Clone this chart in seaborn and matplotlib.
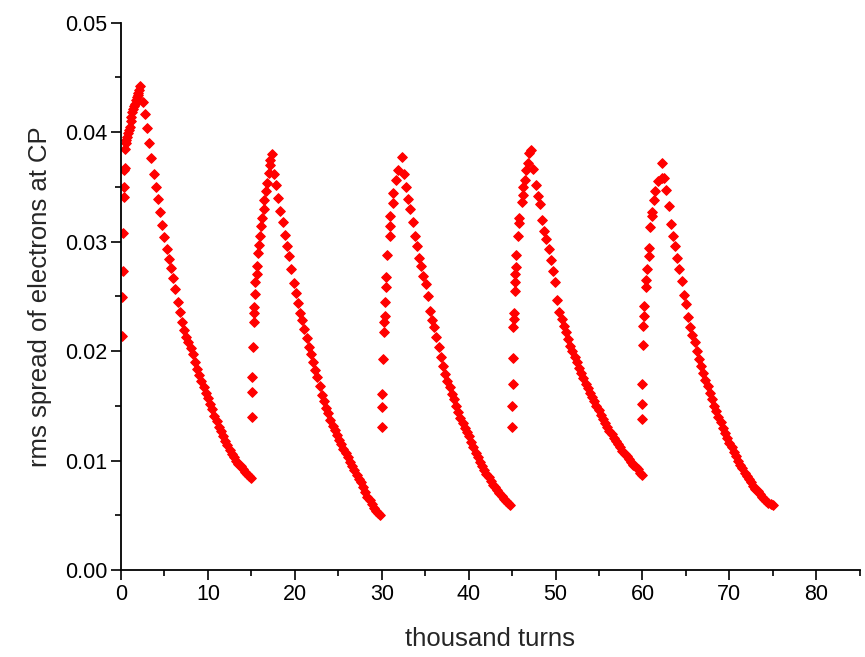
import numpy as np
import pandas as pd
import matplotlib
matplotlib.use("Agg")
import matplotlib.pyplot as plt
from matplotlib.ticker import MultipleLocator, FormatStrFormatter
import seaborn as sns

# rms electron spread at the collision point, five injection cycles of 15k turns
turns_1 = [0.1, 0.15, 0.2, 0.25, 0.3, 0.35, 0.4, 0.45, 0.5, 0.55, 0.6, 0.7, 0.8, 0.9, 1.0,
           1.1, 1.2, 1.3, 1.4, 1.5, 1.6, 1.7, 1.8, 1.9, 2.0, 2.1, 2.2,
           2.5, 2.75, 3.0, 3.25, 3.5, 3.75, 4.0, 4.25, 4.5, 4.75, 5.0, 5.25, 5.5, 5.75,
           6.0, 6.25, 6.5, 6.75, 7.0, 7.25, 7.5, 7.75, 8.0, 8.25, 8.5, 8.75, 9.0, 9.25,
           9.5, 9.75, 10.0, 10.25, 10.5, 10.75, 11.0, 11.25, 11.5, 11.75, 12.0, 12.25,
           12.5, 12.75, 13.0, 13.25, 13.5, 13.75, 14.0, 14.25, 14.5, 14.75, 15.0]
rms_1 = [0.0214, 0.0249, 0.0273, 0.0308, 0.0341, 0.0350, 0.0365, 0.0367, 0.0385, 0.0390,
         0.0393, 0.0396, 0.0399, 0.0402, 0.0405, 0.0410, 0.0414, 0.0418, 0.0421, 0.0424,
         0.0426, 0.0429, 0.0432, 0.0434, 0.0436, 0.0439, 0.0442,
         0.0428, 0.0417, 0.0404, 0.0390, 0.0376, 0.0362, 0.0350, 0.0339, 0.0327, 0.0315,
         0.0304, 0.0293, 0.0284, 0.0276, 0.0267, 0.0257, 0.0245, 0.0236, 0.0227, 0.0219,
         0.0213, 0.0208, 0.0203, 0.0197, 0.0190, 0.0184, 0.0178, 0.0173, 0.0167, 0.0162,
         0.0157, 0.0152, 0.0147, 0.0141, 0.0136, 0.0131, 0.0127, 0.0122, 0.0118, 0.0114,
         0.0110, 0.0106, 0.0103, 0.0100, 0.0097, 0.0095, 0.0092, 0.0090, 0.0088, 0.0086,
         0.0084]

turns_2 = [15.05, 15.05, 15.08, 15.15, 15.25, 15.3, 15.35, 15.4, 15.45, 15.6, 15.7, 15.8,
           15.9, 16.0, 16.1, 16.25, 16.4, 16.5, 16.7, 16.8, 17.0, 17.1, 17.2, 17.35,
           17.6, 17.85, 18.1, 18.35, 18.6, 18.85, 19.1, 19.35, 19.6, 19.85, 20.1, 20.35,
           20.6, 20.85, 21.1, 21.35, 21.6, 21.85, 22.1, 22.35, 22.6, 22.85, 23.1, 23.35,
           23.6, 23.85, 24.1, 24.35, 24.6, 24.85, 25.1, 25.35, 25.6, 25.85, 26.1, 26.35,
           26.6, 26.85, 27.1, 27.35, 27.6, 27.85, 28.1, 28.35, 28.6, 28.85, 29.1, 29.35,
           29.6, 29.85]
rms_2 = [0.0140, 0.0163, 0.0176, 0.0204, 0.0227, 0.0235, 0.0240, 0.0252, 0.0263, 0.0270,
         0.0278, 0.0290, 0.0297, 0.0305, 0.0314, 0.0322, 0.0330, 0.0338, 0.0346, 0.0354,
         0.0363, 0.0370, 0.0375, 0.0380,
         0.0362, 0.0352, 0.0340, 0.0328, 0.0318, 0.0306, 0.0296, 0.0287, 0.0275, 0.0262,
         0.0253, 0.0244, 0.0235, 0.0228, 0.0220, 0.0212, 0.0204, 0.0197, 0.0190, 0.0183,
         0.0176, 0.0168, 0.0160, 0.0154, 0.0148, 0.0143, 0.0137, 0.0132, 0.0128, 0.0123,
         0.0119, 0.0115, 0.0111, 0.0107, 0.0103, 0.0099, 0.0095, 0.0091, 0.0087, 0.0083,
         0.0080, 0.0076, 0.0071, 0.0067, 0.0064, 0.0060, 0.0057, 0.0054, 0.0052, 0.0050]

turns_3 = [30.0, 30.0, 30.02, 30.2, 30.22, 30.3, 30.32, 30.4, 30.45, 30.5, 30.6, 30.9,
           30.95, 31.0, 31.3, 31.35, 31.6, 31.9, 32.3,
           32.55, 32.8, 33.05, 33.3, 33.55, 33.8, 34.05, 34.3, 34.55, 34.8, 35.05, 35.3,
           35.55, 35.8, 36.05, 36.3, 36.55, 36.8, 37.05, 37.3, 37.55, 37.8, 38.05, 38.3,
           38.55, 38.8, 39.05, 39.3, 39.55, 39.8, 40.05, 40.3, 40.55, 40.8, 41.05, 41.3,
           41.55, 41.8, 42.05, 42.3, 42.55, 42.8, 43.05, 43.3, 43.55, 43.8, 44.05, 44.3,
           44.55, 44.8]
rms_3 = [0.0131, 0.0149, 0.0161, 0.0193, 0.0217, 0.0227, 0.0232, 0.0245, 0.0259, 0.0268,
         0.0288, 0.0305, 0.0314, 0.0323, 0.0335, 0.0344, 0.0356, 0.0365, 0.0377,
         0.0362, 0.0350, 0.0339, 0.0330, 0.0318, 0.0305, 0.0296, 0.0285, 0.0278, 0.0269,
         0.0261, 0.0250, 0.0237, 0.0228, 0.0222, 0.0213, 0.0204, 0.0195, 0.0186, 0.0179,
         0.0173, 0.0167, 0.0161, 0.0156, 0.0150, 0.0144, 0.0139, 0.0134, 0.0130, 0.0126,
         0.0122, 0.0117, 0.0112, 0.0107, 0.0103, 0.0099, 0.0095, 0.0091, 0.0088, 0.0085,
         0.0081, 0.0078, 0.0076, 0.0073, 0.0070, 0.0068, 0.0065, 0.0063, 0.0061, 0.0059]

turns_4 = [44.98, 44.98, 45.05, 45.05, 45.15, 45.2, 45.2, 45.3, 45.35, 45.35, 45.4, 45.45,
           45.7, 45.8, 45.85, 46.1, 46.2, 46.3, 46.45, 46.65, 46.85, 47.0, 47.2,
           47.45, 47.7, 47.95, 48.2, 48.45, 48.7, 48.95, 49.2, 49.45, 49.7, 49.95, 50.2,
           50.45, 50.7, 50.95, 51.2, 51.45, 51.7, 51.95, 52.2, 52.45, 52.7, 52.95, 53.2,
           53.45, 53.7, 53.95, 54.2, 54.45, 54.7, 54.95, 55.2, 55.45, 55.7, 55.95, 56.2,
           56.45, 56.7, 56.95, 57.2, 57.45, 57.7, 57.95, 58.2, 58.45, 58.7, 58.95, 59.2,
           59.45, 59.7, 59.95]
rms_4 = [0.0131, 0.0150, 0.0170, 0.0194, 0.0222, 0.0229, 0.0235, 0.0255, 0.0263, 0.0270,
         0.0277, 0.0288, 0.0305, 0.0317, 0.0322, 0.0336, 0.0343, 0.0350, 0.0356, 0.0365,
         0.0372, 0.0381, 0.0384,
         0.0366, 0.0352, 0.0342, 0.0334, 0.0320, 0.0310, 0.0302, 0.0293, 0.0283, 0.0273,
         0.0263, 0.0247, 0.0236, 0.0229, 0.0223, 0.0217, 0.0211, 0.0205, 0.0200, 0.0195,
         0.0190, 0.0185, 0.0180, 0.0175, 0.0170, 0.0166, 0.0162, 0.0158, 0.0154, 0.0150,
         0.0146, 0.0142, 0.0138, 0.0134, 0.0131, 0.0127, 0.0124, 0.0121, 0.0118, 0.0115,
         0.0112, 0.0109, 0.0106, 0.0104, 0.0101, 0.0099, 0.0096, 0.0094, 0.0092, 0.0089,
         0.0087]

turns_5 = [59.95, 59.95, 59.97, 60.05, 60.1, 60.15, 60.15, 60.4, 60.45, 60.5, 60.7, 60.8,
           60.9, 61.1, 61.15, 61.3, 61.45, 61.8, 62.2, 62.25,
           62.5, 62.75, 63.0, 63.25, 63.5, 63.75, 64.0, 64.25, 64.5, 64.75, 65.0, 65.25,
           65.5, 65.75, 66.0, 66.25, 66.5, 66.75, 67.0, 67.25, 67.5, 67.75, 68.0, 68.25,
           68.5, 68.75, 69.0, 69.25, 69.5, 69.75, 70.0, 70.25, 70.5, 70.75, 71.0, 71.25,
           71.5, 71.75, 72.0, 72.25, 72.5, 72.75, 73.0, 73.25, 73.5, 73.75, 74.0, 74.25,
           74.5, 74.75, 75.0]
rms_5 = [0.0138, 0.0152, 0.0170, 0.0206, 0.0223, 0.0232, 0.0241, 0.0259, 0.0265, 0.0275,
         0.0287, 0.0294, 0.0313, 0.0323, 0.0327, 0.0338, 0.0346, 0.0355, 0.0358, 0.0372,
         0.0358, 0.0347, 0.0333, 0.0316, 0.0305, 0.0296, 0.0285, 0.0275, 0.0264, 0.0251,
         0.0243, 0.0231, 0.0222, 0.0215, 0.0208, 0.0200, 0.0193, 0.0186, 0.0180, 0.0174,
         0.0168, 0.0162, 0.0156, 0.0150, 0.0145, 0.0140, 0.0135, 0.0130, 0.0125, 0.0121,
         0.0116, 0.0112, 0.0108, 0.0104, 0.0100, 0.0096, 0.0093, 0.0089, 0.0086, 0.0083,
         0.0080, 0.0077, 0.0074, 0.0072, 0.0069, 0.0067, 0.0065, 0.0063, 0.0061, 0.0060,
         0.0059]

frames = []
for t, r in [(turns_1, rms_1), (turns_2, rms_2), (turns_3, rms_3),
             (turns_4, rms_4), (turns_5, rms_5)]:
    frames.append(pd.DataFrame({"turns": t, "rms": r}))
df = pd.concat(frames, ignore_index=True)

sns.set_style("ticks")
plt.rcParams["font.family"] = ["Liberation Sans", "DejaVu Sans"]

fig = plt.figure(figsize=(8.65, 6.57), dpi=100)
ax = fig.add_axes([0.1399, 0.1324, 0.8540, 0.8330])

sns.scatterplot(data=df, x="turns", y="rms", ax=ax, color="#ff0000",
                marker="D", s=24, linewidth=0.8, edgecolor="#ff0000")

ax.set_xlim(0, 85)
ax.set_ylim(0, 0.05)
ax.xaxis.set_major_locator(MultipleLocator(10))
ax.xaxis.set_minor_locator(MultipleLocator(5))
ax.yaxis.set_major_locator(MultipleLocator(0.01))
ax.yaxis.set_minor_locator(MultipleLocator(0.005))
ax.yaxis.set_major_formatter(FormatStrFormatter("%.2f"))

ax.tick_params(which="major", direction="out", length=7, width=1.2,
               labelsize=15.5, color="black", labelcolor="black", pad=3)
ax.tick_params(which="minor", direction="out", length=4, width=1.2, color="black")

for side in ["left", "bottom"]:
    ax.spines[side].set_linewidth(1.3)
    ax.spines[side].set_color("black")
sns.despine(ax=ax)

ax.set_xlabel("thousand turns", fontsize=18.5, labelpad=16)
ax.set_ylabel("rms spread of electrons at CP", fontsize=18.5, labelpad=9)

fig.savefig("out.png", dpi=100)
